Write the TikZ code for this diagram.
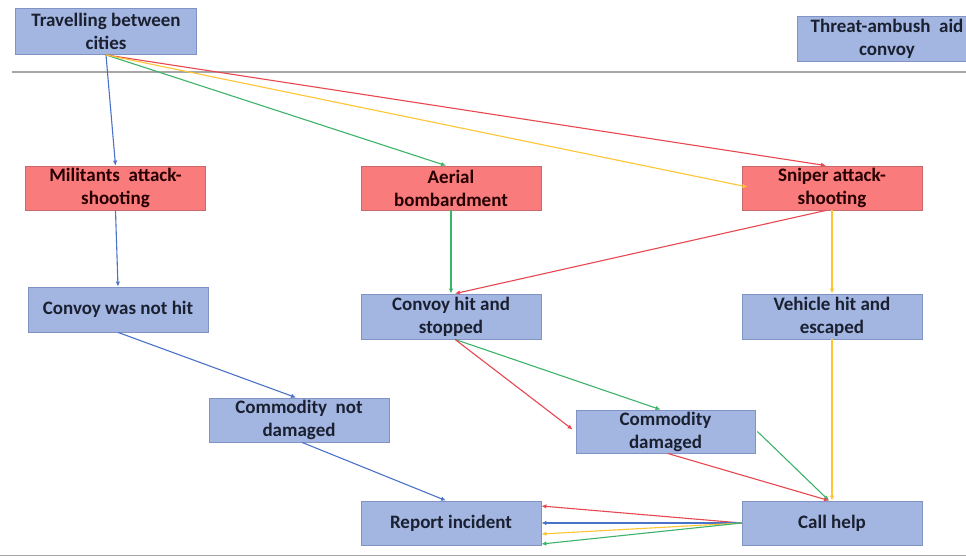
\documentclass[tikz,border=0pt]{standalone}
\usepackage{fontspec}
\setmainfont{Carlito}
\usetikzlibrary{arrows.meta,calc}
\definecolor{boxblue}{HTML}{A3B6E2}
\definecolor{boxblueline}{HTML}{8093C4}
\definecolor{boxred}{HTML}{F97B7C}
\definecolor{boxredline}{HTML}{C86A6A}
\definecolor{txt}{HTML}{1A2030}
\definecolor{lblue}{HTML}{4A72C8}
\definecolor{lgreen}{HTML}{3DB36A}
\definecolor{lyellow}{HTML}{FFC533}
\definecolor{lred}{HTML}{E8474F}
\definecolor{rule}{HTML}{A6A6A6}
\tikzset{
  box/.style={draw=boxblueline, fill=boxblue, line width=0.8pt,
    minimum width=180pt, minimum height=44pt, inner sep=1pt,
    align=center, text=txt, font=\fontsize{19}{23}\selectfont\bfseries},
  hazard/.style={box, draw=boxredline, fill=boxred, text=black!85!red},
  link/.style={line width=1.1pt, -{Latex[length=5pt,width=4.5pt]}},
  lb/.style={link, draw=lblue},
  lg/.style={link, draw=lgreen},
  ly/.style={link, draw=lyellow},
  lr/.style={link, draw=lred}
}
\begin{document}
\begin{tikzpicture}[x=1pt, y=-1pt]
\useasboundingbox (0,0) rectangle (966,557);
\fill[white] (0,0) rectangle (966,557);

% header and footer rules
\draw[rule, line width=2pt] (12,72) -- (966,72);
\draw[rule, line width=1.5pt] (0,555.5) -- (966,555.5);

% header boxes
\node[box, minimum width=181pt, minimum height=46pt] (trav) at (106,31.5) {Travelling between\\cities};
\begin{scope}
  \clip (0,0) rectangle (966,557);
  \node[box, minimum height=45pt] (threat) at (887,38.5) {Threat-ambush\ \ aid\\convoy};
\end{scope}

% attack types
\node[hazard] (mil) at (115.5,188) {Militants\ \ attack-\\shooting};
\node[hazard] (aer) at (451,188) {Aerial\\bombardment};
\node[hazard] (sni) at (832,188) {Sniper attack-\\shooting};

% outcomes
\node[box, minimum height=45pt] (cnh) at (118,309.5) {Convoy was not hit};
\node[box, minimum height=45pt] (chs) at (451,316.5) {Convoy hit and\\stopped};
\node[box, minimum height=45pt] (vhe) at (832,316.5) {Vehicle hit and\\escaped};
\node[box] (cnd) at (299,420) {Commodity\ \ not\\damaged};
\node[box, minimum width=179pt, minimum height=43pt] (cd) at (665.5,431.5) {Commodity\\damaged};
\node[box] (rep) at (451,523) {Report incident};
\node[box] (call) at (832,523) {Call help};

% blue path: militants
\draw[lb] (trav.south) -- (mil.north);
\draw[lb] (mil.south) -- (cnh.north);
\draw[lb] (cnh.south) -- ($(cnd.north)+(-3,0)$);
\draw[lb] ($(cnd.south)+(3,0)$) -- ($(rep.north)+(-5,0)$);

% green path: aerial bombardment
\draw[lg] (trav.south) -- ($(aer.north)+(-5,0)$);
\draw[lg] (aer.south) -- (chs.north);
\draw[lg] ($(chs.south)+(4,0)$) -- ($(cd.north)+(-5,0)$);
\draw[lg] ($(cd.east)+(2,0)$) -- ($(call.north)+(-3,0)$);

% red path: sniper, convoy stopped
\draw[lr] (trav.south) -- ($(sni.north)+(-6,0)$);
\draw[lr] ($(sni.south)+(-6,0)$) -- ($(chs.north)+(4,0)$);
\draw[lr] ($(chs.south)+(4,0)$) -- ($(cd.west)+(-3,-2)$);
\draw[lr] ($(cd.south)+(2,0)$) -- ($(call.north)+(-3,0)$);

% yellow path: sniper, vehicle escaped
\draw[ly] (trav.south) -- ($(sni.west)+(6,-1)$);
\draw[ly] (sni.south) -- (vhe.north);
\draw[ly] (vhe.south) -- (call.north);

% reports from call help
\draw[lr] (call.west) -- ($(rep.east)+(0,-17)$);
\draw[lb] (call.west) -- ($(rep.east)+(0,0)$);
\draw[ly] (call.west) -- ($(rep.east)+(0,11)$);
\draw[lg] (call.west) -- ($(rep.east)+(0,21)$);
\end{tikzpicture}
\end{document}
